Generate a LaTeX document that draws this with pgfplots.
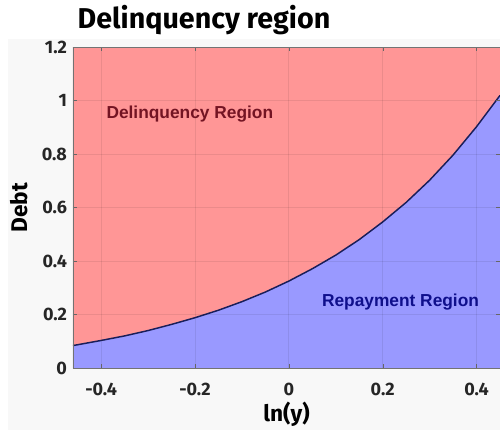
\documentclass[border=0pt]{standalone}
\usepackage{pgfplots}
\pgfplotsset{compat=1.18}
\usepackage{fontspec}
\setmainfont{Fira Sans}
\newfontfamily\lib{Liberation Sans}
\definecolor{redreg}{RGB}{255,150,150}
\definecolor{bluereg}{RGB}{153,153,255}
\definecolor{bg}{RGB}{248,248,248}
\definecolor{dred}{RGB}{115,20,35}
\definecolor{dblue}{RGB}{15,15,140}
\definecolor{curve}{RGB}{25,30,90}
\pgfplotstableread{
x y
-0.46 0.084
-0.45 0.087
-0.40 0.103
-0.35 0.120
-0.30 0.140
-0.25 0.163
-0.20 0.188
-0.15 0.216
-0.10 0.248
-0.05 0.284
0.00 0.325
0.05 0.371
0.10 0.422
0.15 0.480
0.20 0.546
0.25 0.619
0.30 0.702
0.35 0.796
0.40 0.902
0.45 1.019
}\curvedata
\begin{document}
\begin{tikzpicture}
\fill[bg] (-48.75pt,-46.5pt) rectangle (320.25pt,246.75pt);
\begin{axis}[
  at={(0,0)}, anchor=south west,
  scale only axis, width=320.25pt, height=240.75pt,
  xmin=-0.46, xmax=0.45, ymin=0, ymax=1.2,
  xtick={-0.4,-0.2,0,0.2,0.4}, ytick={0,0.2,0.4,0.6,0.8,1,1.2},
  /pgf/number format/assume math mode=true,
  ticklabel style={font=\bfseries\fontsize{13.5}{15}\selectfont, text=black!85},
  yticklabel style={xshift=-1pt},
  xticklabel style={yshift=-8pt},
  grid=major, grid style={black, opacity=0.08, line width=0.6pt},
  tick style={black!60}, major tick length=3pt, tick align=inside,
  axis line style={black!55, line width=0.7pt},
  xlabel={ln(y)}, ylabel={Debt},
  label style={font=\bfseries\fontsize{17}{19}\selectfont},
  xlabel style={yshift=0pt, inner sep=1pt},
  ylabel style={yshift=4pt},
  clip=true, axis on top,
]
\addplot[fill=redreg, draw=none] table {\curvedata} |- (axis cs:-0.46,1.2) -- cycle;
\addplot[fill=bluereg, draw=none] table {\curvedata} \closedcycle;
\addplot[curve, line width=1.1pt] table {\curvedata};
\node[font=\lib\bfseries\fontsize{13}{15}\selectfont, text=dred] at (axis cs:-0.211,0.95) {Delinquency Region};
\node[font=\lib\bfseries\fontsize{13}{15}\selectfont, text=dblue] at (axis cs:0.238,0.245) {Repayment Region};
\end{axis}
\node[anchor=base west, font=\bfseries\fontsize{21.5}{24}\selectfont] at (0,255pt) {Delinquency region};
\pgfresetboundingbox
\path[use as bounding box] (-54.75pt,-46.5pt) rectangle (320.25pt,276pt);
\end{tikzpicture}
\end{document}
